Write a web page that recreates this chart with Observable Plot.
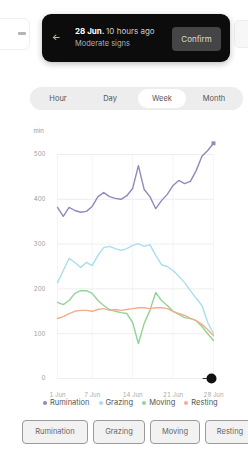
<!DOCTYPE html>
<html><head><meta charset="utf-8">
<script src="https://cdn.jsdelivr.net/npm/d3@7"></script>
<script src="https://cdn.jsdelivr.net/npm/@observablehq/plot@0.6"></script>
<style>
html,body{margin:0;padding:0;background:#fff;width:248px;height:460px;overflow:hidden;font-family:Inter,"Noto Sans",sans-serif;}
#page{position:relative;width:248px;height:460px;}
.abs{position:absolute;}
#leftcard{left:-12px;top:18px;width:40px;height:30px;border:1px solid #f0f0f0;border-radius:6px;background:#fff;}
#leftcard span{position:absolute;left:29px;top:13px;width:8px;height:3px;background:#b5b5b5;border-radius:1px;}
#rightcard{left:234px;top:20px;width:30px;height:26px;border:1px solid #eee;border-radius:5px;background:#f7f7f7;}
#toast{left:42px;top:14px;width:188px;height:48px;background:#0c0c0c;border-radius:9px;box-shadow:0 2px 6px rgba(0,0,0,.25);color:#fff;}
#toast .arrow{position:absolute;left:10px;top:17px;font-size:9px;color:#ddd;}
#toast .t1{position:absolute;left:33px;top:12px;font-size:8px;font-weight:700;white-space:nowrap;}
#toast .t1 b{font-weight:400;color:#ccc;}
#toast .t2{position:absolute;left:33px;top:25px;font-size:7.5px;color:#b0b0b0;white-space:nowrap;}
#toast .btn{position:absolute;left:130px;top:13px;width:49px;height:24px;background:#454545;border-radius:4px;font-size:8px;color:#ddd;text-align:center;line-height:24px;}
#seg{left:30px;top:87px;width:213px;height:23px;background:#ededed;border-radius:12px;}
#seg div{position:absolute;top:0;height:23px;line-height:23px;font-size:7.5px;color:#555;text-align:center;width:48px;}
#seg .sel{background:#fff;border-radius:11px;top:2px;height:19px;line-height:19px;}
#chart{left:0;top:125px;}
#legend{left:43px;top:398px;font-size:7.5px;color:#555;white-space:nowrap;}
#legend span{margin-right:9px;}
#legend i{display:inline-block;width:4px;height:4px;border-radius:2px;margin-right:3px;vertical-align:middle;}
.bt{top:420px;height:24px;border:1.5px solid #9a9a9a;border-radius:4px;background:#f2f2f2;font-size:7.5px;color:#666;text-align:center;line-height:21px;box-sizing:border-box;}
</style></head>
<body><div id="page">
<div class="abs" id="leftcard"><span></span></div>
<div class="abs" id="rightcard"></div>
<div class="abs" id="toast"><div class="arrow">&#8592;</div><div class="t1">28 Jun. <b>10 hours ago</b></div><div class="t2">Moderate signs</div><div class="btn">Confirm</div></div>
<div class="abs" id="seg"></div>
<div class="abs" id="chart"></div>
<div class="abs" id="legend"></div>
<div id="buttons"></div>
</div>
<script>
const days = d3.range(1, 29);
const seriesNames = ["Rumination", "Grazing", "Moving", "Resting"];
const colors = ["#8e8abb", "#a8deec", "#92d497", "#f3ad8e"];
const rumination = [382,362,382,375,371,373,384,406,415,406,402,400,408,424,475,422,406,379,397,411,431,442,435,440,464,496,509,525];
const grazing = [214,241,268,259,248,259,252,275,292,295,290,286,290,297,301,295,299,275,254,250,241,228,214,196,179,163,125,100];
const moving = [170,165,174,190,196,196,190,174,163,154,150,147,145,125,78,123,152,192,174,163,150,143,136,134,129,116,100,85];
const resting = [134,138,145,150,152,152,150,154,156,152,154,152,154,156,158,158,156,158,158,156,150,145,141,134,129,121,109,96];
const yTicks = [0,100,200,300,400,500];
const xTickDays = [1,7,14,21,28];
const xTickLabels = ["1 Jun","7 Jun","14 Jun","21 Jun","28 Jun"];
const periods = ["Hour","Day","Week","Month"];
const selectedPeriod = "Week";
const todayMarker = [{day: 28, value: 0}];

const allSeries = [rumination, grazing, moving, resting];
const rows = [];
seriesNames.forEach((name, i) => allSeries[i].forEach((v, j) => rows.push({name, day: days[j], value: v})));
const xFmt = d => xTickLabels[xTickDays.indexOf(d)];

const chart = Plot.plot({
  width: 248, height: 278,
  marginLeft: 57, marginRight: 35, marginTop: 29, marginBottom: 25,
  style: {fontFamily: "Inter, sans-serif", fontSize: "6px", color: "#888", background: "transparent"},
  x: {type: "linear", domain: [1, 28]},
  y: {type: "linear", domain: [0, 500]},
  color: {domain: seriesNames, range: colors},
  marks: [
    Plot.gridY(yTicks, {stroke: "#ddd", strokeOpacity: 0.5}),
    Plot.gridX(xTickDays, {stroke: "#eee", strokeOpacity: 0.6}),
    Plot.axisY(yTicks, {tickSize: 0, tickPadding: 12, fill: "#999", label: "min", labelAnchor: "top", labelArrow: "none", labelOffset: 24}),
    Plot.axisX(xTickDays, {tickFormat: xFmt, tickSize: 0, tickPadding: 14, fill: "#aaa", label: null}),
    Plot.line(rows, {x: "day", y: "value", z: "name", stroke: "name", strokeWidth: 1.4}),
    Plot.dot(rows.filter(r => r.name === "Rumination" && r.day === 28), {x: "day", y: "value", symbol: "square", r: 2.2, fill: "#8e8abb"}),
    Plot.ruleY(todayMarker, {y: "value", x1: d => d.day - 1.8, x2: "day", stroke: "#333", strokeWidth: 1}),
    Plot.dot(todayMarker, {x: "day", y: "value", dx: -2, r: 5, fill: "#111"})
  ]
});
document.getElementById("chart").append(chart);

const seg = document.getElementById("seg");
periods.forEach((p, i) => {
  const d = document.createElement("div");
  d.textContent = p;
  d.style.left = (4 + i * 52) + "px";
  if (p === selectedPeriod) d.className = "sel";
  seg.append(d);
});

const legend = document.getElementById("legend");
seriesNames.forEach((n, i) => {
  const s = document.createElement("span");
  s.innerHTML = `<i style="background:${colors[i]}"></i>${n}`;
  legend.append(s);
});

const btnX = [22, 93, 150, 205];
const btnW = [66, 52, 50, 50];
const btns = document.getElementById("buttons");
seriesNames.forEach((n, i) => {
  const b = document.createElement("div");
  b.className = "abs bt";
  b.style.left = btnX[i] + "px";
  b.style.width = btnW[i] + "px";
  b.textContent = n;
  btns.append(b);
});
</script>
</body></html>
